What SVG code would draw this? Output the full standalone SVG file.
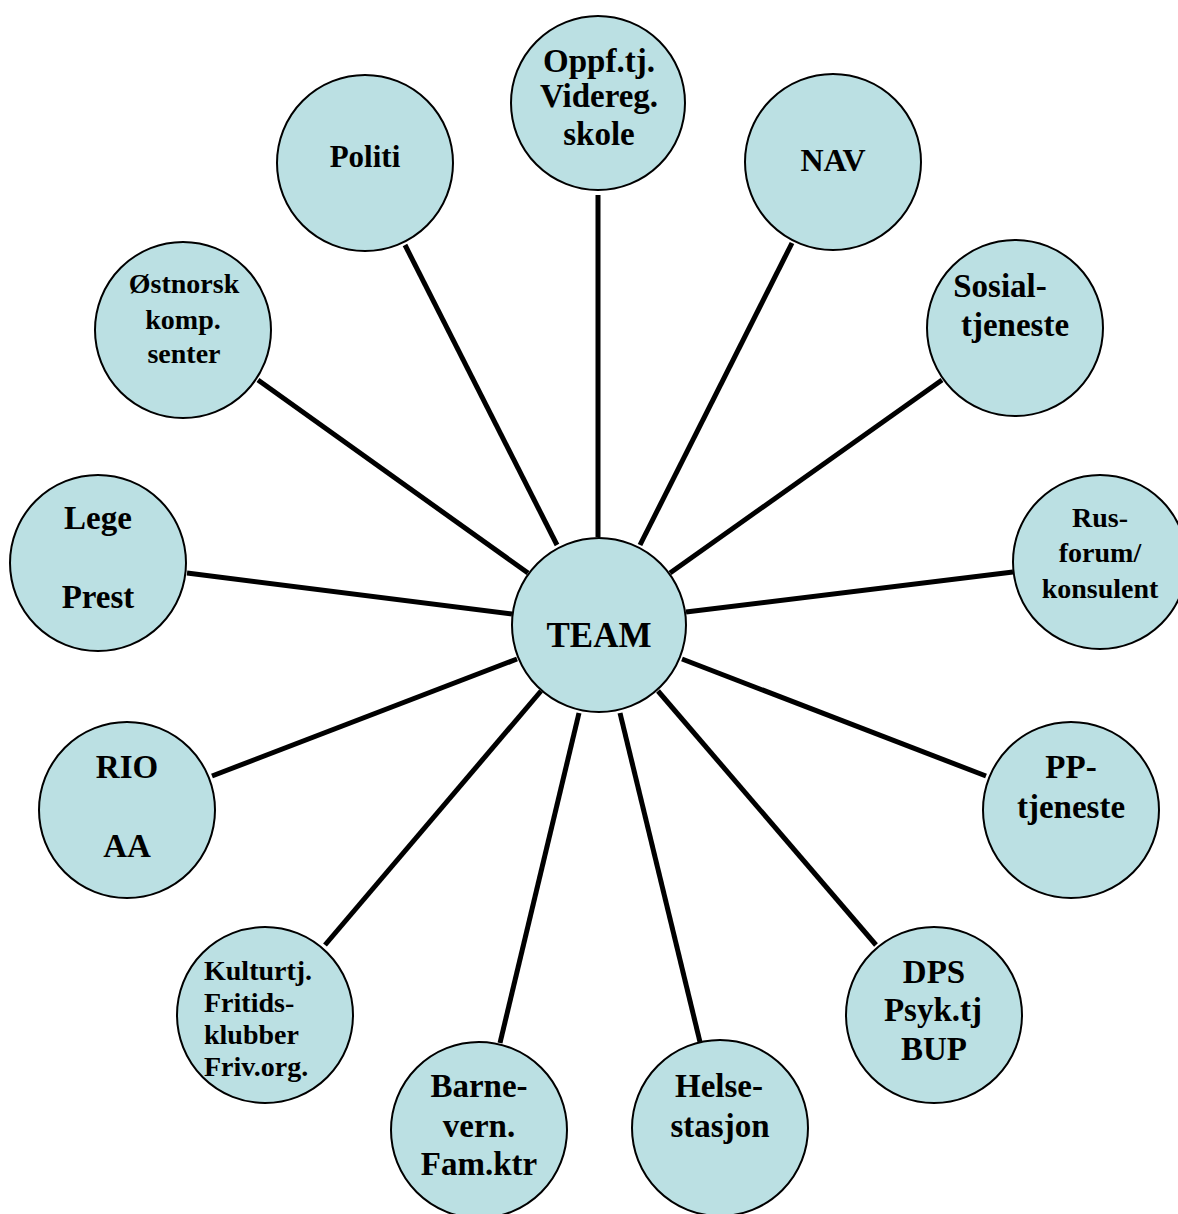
<svg xmlns="http://www.w3.org/2000/svg" width="1178" height="1214" viewBox="0 0 1178 1214">
<style>
.n{fill:#bbe0e3;stroke:#000;stroke-width:2}
.t{font-family:"Liberation Serif","Times New Roman",serif;font-weight:bold;font-size:33px;fill:#000;text-anchor:middle}
.s{font-size:28px}
.c line{stroke:#000;stroke-width:5}
</style>
<rect width="1178" height="1214" fill="#fff"/>
<g class="c" id="connectors">
<line x1="598" y1="195" x2="598" y2="537"/>
<line x1="405" y1="245" x2="557" y2="545"/>
<line x1="792" y1="243" x2="640" y2="545"/>
<line x1="258" y1="380" x2="528" y2="573"/>
<line x1="942" y1="380" x2="670" y2="573"/>
<line x1="187" y1="573" x2="512" y2="614"/>
<line x1="1013" y1="572" x2="686" y2="612"/>
<line x1="212" y1="776" x2="517" y2="659"/>
<line x1="986" y1="776" x2="682" y2="659"/>
<line x1="325" y1="945" x2="541" y2="691"/>
<line x1="876" y1="945" x2="658" y2="691"/>
<line x1="500" y1="1043" x2="579" y2="713"/>
<line x1="700" y1="1042" x2="620" y2="713"/>
</g>
<g id="team"><circle class="n" cx="599" cy="625" r="87"/><text class="t" x="599" y="647" style="font-size:35px">TEAM</text></g>
<g id="oppf"><circle class="n" cx="598" cy="103" r="87"/><text class="t" x="599" y="72">Oppf.tj.</text><text class="t" x="599" y="107">Videreg.</text><text class="t" x="599" y="145">skole</text></g>
<g id="politi"><circle class="n" cx="365" cy="163" r="88"/><text class="t" x="365" y="167" style="font-size:31px">Politi</text></g>
<g id="nav"><circle class="n" cx="833" cy="162" r="88"/><text class="t" x="833" y="171" style="font-size:32px">NAV</text></g>
<g id="ostnorsk"><circle class="n" cx="183" cy="330" r="88"/><text class="t s" x="184" y="293">Østnorsk</text><text class="t s" x="183" y="329">komp.</text><text class="t s" x="184" y="363">senter</text></g>
<g id="sosial"><circle class="n" cx="1015" cy="328" r="88"/><text class="t" x="1000" y="297">Sosial-</text><text class="t" x="1015" y="336">tjeneste</text></g>
<g id="lege"><circle class="n" cx="98" cy="563" r="88"/><text class="t" x="98" y="529">Lege</text><text class="t" x="98" y="608">Prest</text></g>
<g id="rus"><circle class="n" cx="1100" cy="562" r="87"/><text class="t s" x="1100" y="527">Rus-</text><text class="t s" x="1100" y="562">forum/</text><text class="t s" x="1100" y="598">konsulent</text></g>
<g id="rio"><circle class="n" cx="127" cy="810" r="88"/><text class="t" x="127" y="778">RIO</text><text class="t" x="127" y="857">AA</text></g>
<g id="pp"><circle class="n" cx="1071" cy="810" r="88"/><text class="t" x="1071" y="778">PP-</text><text class="t" x="1071" y="818">tjeneste</text></g>
<g id="kultur"><circle class="n" cx="265" cy="1015" r="88"/><text class="t s" x="204" y="980" style="text-anchor:start">Kulturtj.</text><text class="t s" x="204" y="1012" style="text-anchor:start">Fritids-</text><text class="t s" x="204" y="1044" style="text-anchor:start">klubber</text><text class="t s" x="204" y="1076" style="text-anchor:start">Friv.org.</text></g>
<g id="dps"><circle class="n" cx="934" cy="1015" r="88"/><text class="t" x="934" y="983">DPS</text><text class="t" x="933" y="1021">Psyk.tj</text><text class="t" x="934" y="1060">BUP</text></g>
<g id="barnevern"><circle class="n" cx="479" cy="1130" r="88"/><text class="t" x="479" y="1097">Barne-</text><text class="t" x="479" y="1137">vern.</text><text class="t" x="479" y="1175">Fam.ktr</text></g>
<g id="helse"><circle class="n" cx="720" cy="1128" r="88"/><text class="t" x="719" y="1097">Helse-</text><text class="t" x="720" y="1137">stasjon</text></g>
</svg>
